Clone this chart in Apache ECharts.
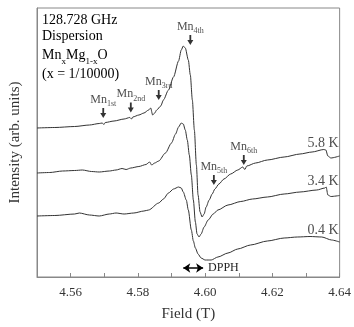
<!DOCTYPE html>
<html>
<head>
<meta charset="utf-8">
<script src="https://cdn.jsdelivr.net/npm/echarts@6/dist/echarts.min.js"></script>
<style>
  html, body { margin: 0; padding: 0; background: #fff; }
  #chart { width: 354px; height: 327px; }
</style>
</head>
<body>
<div id="chart"></div>
<script>
// field (T) and intensity (arb. units)
const field58 = [4.5500, 4.5553, 4.5612, 4.5656, 4.5685, 4.5694, 4.5699, 4.5703, 4.5729, 4.5759, 4.5776, 4.5781, 4.5785, 4.5803, 4.5818, 4.5832, 4.5838, 4.5844, 4.5850, 4.5856, 4.5868, 4.5876, 4.5891, 4.5906, 4.5921, 4.5929, 4.5935, 4.5941, 4.5950, 4.5956, 4.5962, 4.5968, 4.5974, 4.5979, 4.5985, 4.5991, 4.5997, 4.6003, 4.6012, 4.6021, 4.6029, 4.6041, 4.6056, 4.6076, 4.6097, 4.6112, 4.6118, 4.6124, 4.6150, 4.6185, 4.6235, 4.6282, 4.6318, 4.6353, 4.6359, 4.6365, 4.6374, 4.6400];
const int58 = [149, 149.5, 150.5, 152, 153.5, 154, 152.5, 154.5, 156, 158, 159.5, 158, 160, 162, 164, 167, 169, 162, 164, 167, 171, 177, 187, 200, 216, 227, 231, 229, 217, 202, 177, 147, 112, 82, 65, 60, 63, 70, 77, 83, 88, 93, 98, 103, 107, 110, 107.5, 111, 114, 117, 120, 123, 125, 127.5, 127, 121, 119, 121];

const field34 = [4.5500, 4.5538, 4.5576, 4.5612, 4.5635, 4.5662, 4.5685, 4.5715, 4.5735, 4.5753, 4.5765, 4.5779, 4.5803, 4.5824, 4.5835, 4.5841, 4.5850, 4.5862, 4.5882, 4.5900, 4.5912, 4.5921, 4.5929, 4.5935, 4.5941, 4.5947, 4.5953, 4.5959, 4.5965, 4.5971, 4.5976, 4.5982, 4.5988, 4.5997, 4.6009, 4.6024, 4.6038, 4.6068, 4.6106, 4.6141, 4.6185, 4.6235, 4.6282, 4.6332, 4.6356, 4.6360, 4.6365, 4.6374, 4.6400];
const int34 = [104, 104.5, 106, 106.5, 107, 105.5, 105, 106, 107, 108.5, 107.5, 109, 110.5, 112.5, 115, 112, 114, 116, 124, 134, 143, 150, 154, 153, 147, 137, 122, 102, 77, 55, 43, 40, 43, 50, 57, 63, 67, 72, 75.5, 78, 80, 83, 85, 87, 89, 90, 82, 80.5, 81.5];

const field04 = [4.5500, 4.5553, 4.5612, 4.5626, 4.5656, 4.5685, 4.5715, 4.5735, 4.5759, 4.5788, 4.5818, 4.5832, 4.5862, 4.5876, 4.5891, 4.5906, 4.5921, 4.5929, 4.5935, 4.5944, 4.5950, 4.5959, 4.5965, 4.5971, 4.5979, 4.5988, 4.6000, 4.6018, 4.6038, 4.6068, 4.6097, 4.6135, 4.6185, 4.6235, 4.6274, 4.6312, 4.6347, 4.6376, 4.6400];
const int04 = [61, 61.5, 63, 64, 62, 61, 63, 64, 63, 64, 66, 67, 74, 78, 84, 88, 90, 89, 85, 77, 67, 47, 36, 29, 23, 19, 17, 17, 20, 24, 28, 32, 36, 39, 40, 40.5, 40, 37, 35];

const tempNames = ['5.8 K', '3.4 K', '0.4 K'];
const tempLabelY = [134, 96, 47];

const mnOrder = ['1st', '2nd', '3rd', '4th', '5th', '6th'];
const mnField = [4.5697, 4.5779, 4.5862, 4.5956, 4.6026, 4.6115];
const mnArrowY = [164, 169.5, 182, 237, 97, 117];

const dpphField = [4.5935, 4.5994];
const dpphY = 9;

const xTicks = { min: 4.55, max: 4.64, step: 0.01 };

const zip = (xs, ys) => xs.map((x, i) => [x, ys[i]]);
const serif = 'Liberation Serif, Times New Roman, serif';
const ink = '#333';

const chart = echarts.init(document.getElementById('chart'));

const curve = (name, xs, ys) => ({
  name: name,
  type: 'line',
  data: zip(xs, ys),
  showSymbol: false,
  smooth: 0.25,
  smoothMonotone: 'x',
  lineStyle: { color: ink, width: 1 },
  silent: true
});

const arrowPath = 'path://M3.5,0 L6.5,0 L6.5,7 L10,7 L5,14 L0,7 L3.5,7 Z';

chart.setOption({
  animation: false,
  backgroundColor: '#fff',
  grid: {
    left: 37, right: 12, top: 8, bottom: 50,
    show: true, borderColor: '#888', borderWidth: 1
  },
  xAxis: {
    type: 'value',
    min: xTicks.min,
    max: xTicks.max,
    interval: xTicks.step,
    name: 'Field (T)',
    nameLocation: 'middle',
    nameGap: 30,
    nameTextStyle: { fontFamily: serif, fontSize: 15, color: ink },
    axisLine: { lineStyle: { color: '#888' } },
    axisTick: { inside: true, length: 4, lineStyle: { color: '#888' } },
    axisLabel: {
      fontFamily: serif, fontSize: 13, color: ink, margin: 9,
      formatter: v => (Math.round(v * 100) % 2 === 0 ? v.toFixed(2) : '')
    },
    splitLine: { show: false }
  },
  yAxis: {
    type: 'value',
    min: 0,
    max: 269,
    name: 'Intensity (arb. units)',
    nameLocation: 'middle',
    nameGap: 14,
    nameTextStyle: { fontFamily: serif, fontSize: 15, color: ink },
    axisLine: { show: true, lineStyle: { color: '#888' } },
    axisTick: { show: false },
    axisLabel: { show: false },
    splitLine: { show: false }
  },
  graphic: [{
    type: 'text',
    left: 42,
    top: 13,
    style: {
      text: '{a|128.728 GHz}\n{a|Dispersion}\n{a|Mn}{s|x}{a|Mg}{s|1-x}{a|O}\n{a|(x = 1/10000)}',
      rich: {
        a: { fontFamily: serif, fontSize: 14, color: '#222', lineHeight: 16.5 },
        s: { fontFamily: serif, fontSize: 9, color: '#222', lineHeight: 21, verticalAlign: 'bottom' }
      }
    }
  }],
  series: [
    curve('5.8 K', field58, int58),
    curve('3.4 K', field34, int34),
    curve('0.4 K', field04, int04),
    {
      name: 'labels',
      type: 'scatter',
      data: tempNames.map((t, i) => ({ name: t, value: [xTicks.max, tempLabelY[i]] })),
      symbolSize: 0,
      silent: true,
      label: {
        show: true, position: 'left', distance: 1,
        formatter: p => p.name,
        fontFamily: serif, fontSize: 14, color: '#222'
      }
    },
    {
      name: 'Mn',
      type: 'scatter',
      data: mnOrder.map((n, i) => ({ name: n, value: [mnField[i], mnArrowY[i]] })),
      symbol: arrowPath,
      symbolSize: [6, 10],
      itemStyle: { color: '#000' },
      silent: true,
      label: {
        show: true, position: 'top', distance: 0,
        formatter: p => '{b|Mn}{s|' + p.name + '}',
        rich: {
          b: { fontFamily: serif, fontSize: 12, color: '#222', lineHeight: 13 },
          s: { fontFamily: serif, fontSize: 8, color: '#222', lineHeight: 17, verticalAlign: 'bottom' }
        }
      }
    },
    {
      name: 'DPPH',
      type: 'line',
      data: [],
      silent: true,
      markLine: {
        silent: true,
        symbol: ['arrow', 'arrow'],
        symbolSize: [7, 7],
        lineStyle: { color: '#000', width: 1.5, type: 'solid' },
        label: {
          show: true, position: 'end', distance: 5,
          formatter: 'DPPH',
          fontFamily: serif, fontSize: 12, color: '#222'
        },
        data: [[{ coord: [dpphField[0], dpphY] }, { coord: [dpphField[1], dpphY] }]]
      }
    }
  ]
});
</script>
</body>
</html>
